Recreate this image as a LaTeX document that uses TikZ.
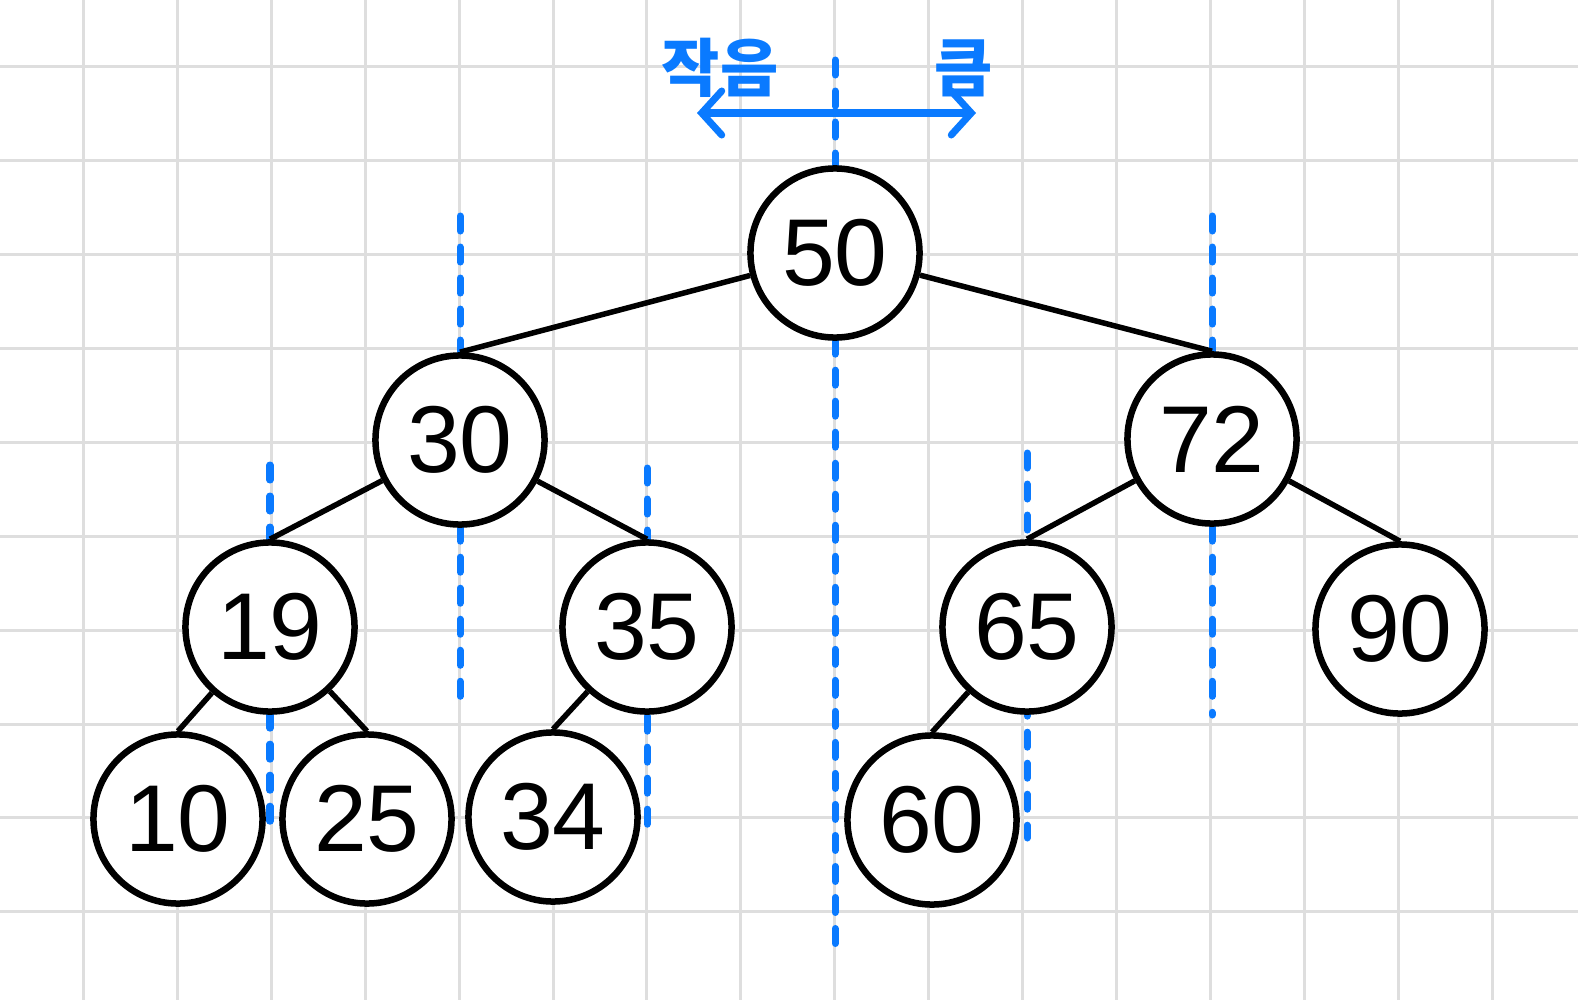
\documentclass[tikz,border=0pt]{standalone}
\usepackage{fontspec}
\newfontfamily\krfont{Noto Sans CJK KR}
\newfontfamily\numfont{Liberation Sans}
\definecolor{guide_c}{rgb}{0.04, 0.48, 1.0}
\definecolor{grid_c}{rgb}{0.87, 0.87, 0.87}
\usetikzlibrary{arrows.meta,
		backgrounds,
		calc,
		positioning,
		shapes}

\begin{document}
\begin{tikzpicture}[
			x=0.01cm, y=-0.01cm,
			key/.style = {circle, draw, fill=white, line width=0.065cm, minimum size=1.69cm, inner sep=0pt, font=\numfont\fontsize{27}{27}\selectfont},
			link/.style = {line width=0.055cm},
			guide/.style = {guide_c, line width=0.07cm, line cap=round, dash pattern=on 0.15cm off 0.16cm},
			gridline/.style = {grid_c, line width=0.03cm},
			side/.style = {text=guide_c, font=\krfont\bfseries\fontsize{18}{18}\selectfont},
			]
			\useasboundingbox (0,0) rectangle (1578,1000);
			% keys
			\node[key] (n50) at (835,253) {50};
			\node[key] (n30) at (460,440) {30};
			\node[key] (n72) at (1212,439) {72};
			\node[key] (n19) at (270,627) {19};
			\node[key] (n35) at (647,627) {35};
			\node[key] (n65) at (1027,627) {65};
			\node[key] (n90) at (1400,629) {90};
			\node[key] (n10) at (178,819) {10};
			\node[key] (n25) at (367,819) {25};
			\node[key] (n34) at (553,817) {34};
			\node[key] (n60) at (932,820) {60};
			% links
			\draw[link] (n50) -- (n30.north);
			\draw[link] (n50) -- (n72.north);
			\draw[link] (n30) -- (n19.north);
			\draw[link] (n30) -- (n35.north);
			\draw[link] (n72) -- (n65.north);
			\draw[link] (n72) -- (n90.north);
			\draw[link] (n19) -- (n10.north);
			\draw[link] (n19) -- (n25.north);
			\draw[link] (n35) -- (n34.north);
			\draw[link] (n65) -- (n60.north);
			% smaller / larger
			\coordinate (lt) at (697,113);
			\coordinate (rt) at (976,113);
			\draw[guide_c, line width=0.07cm, line cap=round, {Straight Barb[length=0.2cm,width=0.44cm,line cap=round]}-{Straight Barb[length=0.2cm,width=0.44cm,line cap=round]}] (lt) -- (rt);
			\node[side] (small) at (720,68) {작음};
			\node[side] (large) at (964,68) {큼};
			\begin{scope}[on background layer]
				\fill[white] (0,0) rectangle (1578,1000);
				% grid
				\foreach \i in {0,...,15}
					\draw[gridline] (83.5+93.9*\i,0) -- (83.5+93.9*\i,1000);
				\foreach \j in {0,...,9}
					\draw[gridline] (0,66.7+93.9*\j) -- (1578,66.7+93.9*\j);
				% guides
				\draw[guide] (n50 |- 0,60) -- (n50 |- 0,946);
				\draw[guide] (n30 |- 0,216) -- (n30 |- 0,710);
				\draw[guide] (n72 |- 0,216) -- (n72 |- 0,715);
				\draw[guide] (n19 |- 0,465) -- (n19 |- 0,830);
				\draw[guide] (n35 |- 0,468) -- (n35 |- 0,825);
				\draw[guide] (n65 |- 0,453) -- (n65 |- 0,838);
			\end{scope}
		\end{tikzpicture}
\end{document}
